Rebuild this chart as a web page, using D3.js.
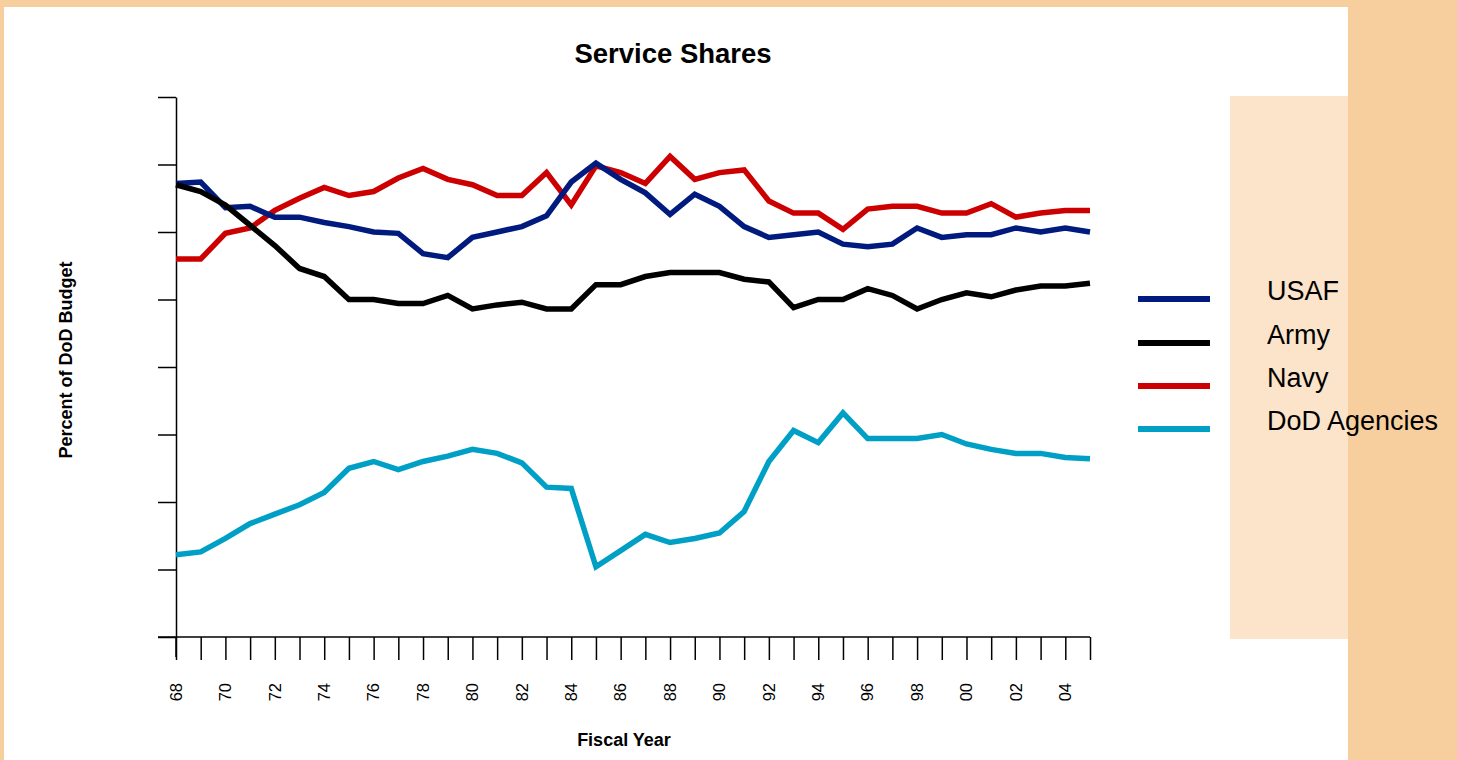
<html>
<style>
  body{
    margin:0;
    background-color:#f7cf9f;
  }
  text{
    font-family:"Liberation Sans", Arial, sans-serif;
  }
</style>
<script src='https://d3js.org/d3.v7.min.js'></script>
<body>
  <svg id="chart" width="1457" height="760"></svg>
</body>
<script>
  // fiscal years 1968 .. 2005, shares in percent of DoD budget
  let years = d3.range(1968, 2006);
  let usaf = [33.6,33.7,31.8,31.9,31.1,31.1,30.7,30.4,30.0,29.9,28.4,28.1,29.6,30.0,30.4,31.2,33.7,35.1,33.9,32.9,31.3,32.8,31.9,30.4,29.6,29.8,30.0,29.1,28.9,29.1,30.3,29.6,29.8,29.8,30.3,30.0,30.3,30.0];
  let army = [33.5,33.0,32.0,30.5,29.0,27.3,26.7,25.0,25.0,24.7,24.7,25.3,24.3,24.6,24.8,24.3,24.3,26.1,26.1,26.7,27.0,27.0,27.0,26.5,26.3,24.4,25.0,25.0,25.8,25.3,24.3,25.0,25.5,25.2,25.7,26.0,26.0,26.2];
  let navy = [28.0,28.0,29.9,30.3,31.6,32.5,33.3,32.7,33.0,34.0,34.7,33.9,33.5,32.7,32.7,34.4,32.0,34.9,34.4,33.6,35.6,33.9,34.4,34.6,32.3,31.4,31.4,30.2,31.7,31.9,31.9,31.4,31.4,32.1,31.1,31.4,31.6,31.6];
  let agencies = [6.1,6.3,7.3,8.4,9.1,9.8,10.7,12.5,13.0,12.4,13.0,13.4,13.9,13.6,12.9,11.1,11.0,5.2,6.4,7.6,7.0,7.3,7.7,9.3,13.0,15.3,14.4,16.6,14.7,14.7,14.7,15.0,14.3,13.9,13.6,13.6,13.3,13.2];
  let seriesNames = ["USAF","Army","Navy","DoD Agencies"];
  let seriesColors = ["#001a7d","#000000","#cc0000","#00a0c6"];
  let yTicks = [0,5,10,15,20,25,30,35,40];
  let labelYears = d3.range(1968, 2005, 2);

  let svg = d3.select("#chart");

  // white panel and light legend box
  svg.append("rect").attr("x",4).attr("y",7).attr("width",1344).attr("height",753).attr("fill","#ffffff");
  svg.append("rect").attr("x",1230).attr("y",96).attr("width",118).attr("height",543).attr("fill","#fbe4ca");

  let x = d3.scaleLinear().domain([1968,2005]).range([176,1090]);
  let y = d3.scaleLinear().domain([0,40]).range([637,97]);

  // y axis, ticks only
  let ya = svg.append("g").attr("transform","translate(176,0)")
    .call(d3.axisLeft(y).tickValues(yTicks).tickSize(18).tickSizeOuter(0).tickFormat(""));
  ya.select(".domain").attr("stroke","#000").attr("stroke-width",1.5);
  ya.selectAll(".tick line").attr("stroke","#000").attr("stroke-width",1.5);

  // x axis, a tick per year
  let xa = svg.append("g").attr("transform","translate(0,637)")
    .call(d3.axisBottom(x).tickValues(years).tickSize(23).tickSizeOuter(0).tickFormat(""));
  xa.select(".domain").remove();
  xa.selectAll(".tick line").attr("stroke","#000").attr("stroke-width",1.5);
  xa.append("line").attr("x1",158).attr("x2",x(2005)).attr("y1",0).attr("y2",0)
    .attr("stroke","#000").attr("stroke-width",1.5);
  ya.append("line").attr("x1",0).attr("x2",0).attr("y1",637).attr("y2",657)
    .attr("stroke","#000").attr("stroke-width",1.5);

  svg.append("g").selectAll("text").data(labelYears).enter().append("text")
    .attr("transform", d => "translate(" + x(d) + ",683) rotate(-90)")
    .attr("text-anchor","end")
    .attr("dy","0.35em")
    .attr("font-size",16.5)
    .text(d => d3.format("02d")(d % 100));

  // lines
  let allSeries = [usaf, army, navy, agencies];
  let line = d3.line().x((d,i) => x(years[i])).y(d => y(d));
  [2,0,1,3].forEach(function(k){
    svg.append("path").datum(allSeries[k]).attr("d",line)
      .attr("fill","none").attr("stroke",seriesColors[k]).attr("stroke-width",5.5);
  });

  // titles
  svg.append("text").attr("x",673).attr("y",63).attr("text-anchor","middle")
    .attr("font-size",27.5).attr("font-weight","bold").text("Service Shares");
  svg.append("text").attr("x",624).attr("y",746).attr("text-anchor","middle")
    .attr("font-size",18).attr("font-weight","bold").text("Fiscal Year");
  svg.append("text").attr("transform","translate(72,360) rotate(-90)").attr("text-anchor","middle")
    .attr("font-size",18).attr("font-weight","bold").text("Percent of DoD Budget");

  // legend
  let legY = [299,343,386,429];
  let leg = svg.append("g").selectAll("g").data(seriesNames).enter().append("g");
  leg.append("line").attr("x1",1138).attr("x2",1210)
    .attr("y1",(d,i) => legY[i]).attr("y2",(d,i) => legY[i])
    .attr("stroke",(d,i) => seriesColors[i]).attr("stroke-width",6);
  leg.append("text").attr("x",1267).attr("y",(d,i) => legY[i] + 1)
    .attr("font-size",27).text(d => d);
</script>
</html>
